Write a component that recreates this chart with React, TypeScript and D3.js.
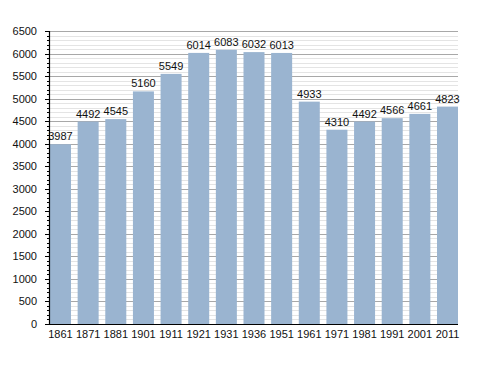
import React from "react";
import * as d3 from "d3";

const years = ["1861","1871","1881","1901","1911","1921","1931","1936","1951","1961","1971","1981","1991","2001","2011"];
const population = [3987,4492,4545,5160,5549,6014,6083,6032,6013,4933,4310,4492,4566,4661,4823];
const yTicks = [0,500,1000,1500,2000,2500,3000,3500,4000,4500,5000,5500,6000,6500];

export default function App() {
  const W = 488, H = 373;
  const left = 50, right = 458, top = 31, bottom = 324;
  const x = d3.scaleBand<string>().domain(years).range([left, right]).paddingInner(0.24).paddingOuter(0);
  const y = d3.scaleLinear().domain([0, 6500]).range([bottom, top]);
  const minor = d3.range(0, 6501, 100).filter(v => v % 500 !== 0);
  const font = "'Liberation Sans', Arial, sans-serif";
  return (
    <svg width={W} height={H} style={{ position: "absolute", left: 0, top: 0 }} fontFamily={font}>
      <rect width={W} height={H} fill="#fff" />
      {minor.map(v => (
        <line key={"m" + v} x1={left} x2={right} y1={Math.round(y(v)) + 0.5} y2={Math.round(y(v)) + 0.5} stroke="#e4e4e4" strokeWidth={1} />
      ))}
      {yTicks.map(v => (
        <line key={"g" + v} x1={left} x2={right} y1={Math.round(y(v)) + 0.5} y2={Math.round(y(v)) + 0.5} stroke="#a8a8a8" strokeWidth={1} />
      ))}
      {years.map((yr, i) => (
        <rect key={yr} x={x(yr)} y={y(population[i])} width={x.bandwidth()} height={bottom - y(population[i])} fill="#9ab4d0" />
      ))}
      {years.map((yr, i) => (
        <text key={"v" + yr} x={(x(yr) as number) + x.bandwidth() / 2} y={y(population[i]) - 4} textAnchor="middle" fontSize={11} fill="#111">{population[i]}</text>
      ))}
      {/* axis */}
      <line x1={left - 0.5} x2={left - 0.5} y1={top} y2={bottom + 1} stroke="#000" strokeWidth={1.2} />
      <line x1={left - 1} x2={right} y1={bottom + 0.5} y2={bottom + 0.5} stroke="#000" strokeWidth={1.2} />
      {minor.map(v => (
        <line key={"mt" + v} x1={left - 3} x2={left} y1={Math.round(y(v)) + 0.5} y2={Math.round(y(v)) + 0.5} stroke="#000" strokeWidth={1} />
      ))}
      {yTicks.map(v => (
        <line key={"t" + v} x1={left - 5} x2={left} y1={Math.round(y(v)) + 0.5} y2={Math.round(y(v)) + 0.5} stroke="#000" strokeWidth={1} />
      ))}
      {yTicks.map(v => (
        <text key={"yl" + v} x={left - 13} y={y(v) + 4} textAnchor="end" fontSize={11} fill="#111">{v}</text>
      ))}
      {years.map(yr => (
        <text key={"xl" + yr} x={(x(yr) as number) + x.bandwidth() / 2} y={bottom + 14} textAnchor="middle" fontSize={11} fill="#111">{yr}</text>
      ))}
    </svg>
  );
}
